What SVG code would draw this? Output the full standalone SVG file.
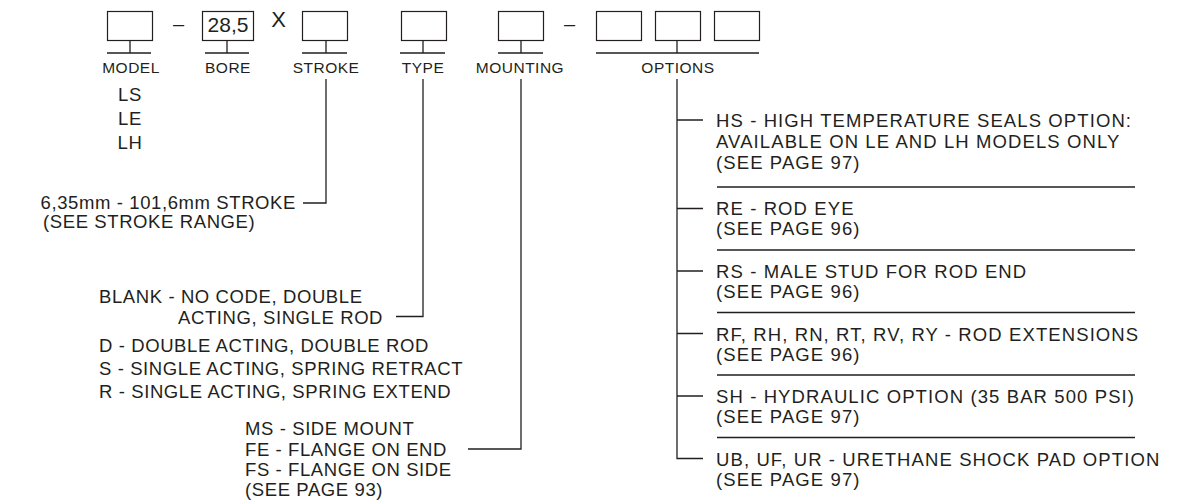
<svg xmlns="http://www.w3.org/2000/svg" width="1181" height="500" viewBox="0 0 1181 500">
<style>
text{font-family:"Liberation Sans",Arial,sans-serif;fill:#231f20}
.lbl{font-size:15.5px;letter-spacing:0.5px;text-anchor:middle}
.t{font-size:18.5px;letter-spacing:0.6px}
.o{font-size:18.5px;letter-spacing:1.1px}
.box{fill:none;stroke:#231f20;stroke-width:1.2}
.ln{fill:none;stroke:#231f20;stroke-width:1.3}
</style>
<rect width="1181" height="500" fill="#fff"/>
<g id="model">
<rect class="box" x="107.5" y="11.5" width="45" height="29"/>
<path class="ln" d="M130 40.5V53M107 53H151"/>
<text class="lbl" x="131" y="73">MODEL</text>
<text class="t" x="130" y="101" text-anchor="middle">LS</text>
<text class="t" x="130" y="125" text-anchor="middle">LE</text>
<text class="t" x="130" y="149" text-anchor="middle">LH</text>
</g>
<text x="178.5" y="31" font-size="20" text-anchor="middle">–</text>
<g id="bore">
<rect class="box" x="202.5" y="11.5" width="51" height="29"/>
<text x="228" y="32" font-size="21" text-anchor="middle">28,5</text>
<path class="ln" d="M227 40.5V53M205 53H249"/>
<text class="lbl" x="228" y="73">BORE</text>
</g>
<text x="278.5" y="27" font-size="22" text-anchor="middle">X</text>
<g id="stroke">
<rect class="box" x="302.5" y="11.5" width="45" height="29"/>
<path class="ln" d="M326 40.5V53M302 53H347"/>
<text class="lbl" x="326" y="73">STROKE</text>
<text class="t" x="296" y="209" text-anchor="end">6,35mm - 101,6mm STROKE</text>
<text class="t" x="43" y="228">(SEE STROKE RANGE)</text>
</g>
<g id="type">
<rect class="box" x="401.5" y="11.5" width="45" height="29"/>
<path class="ln" d="M423 40.5V53M400 53H445"/>
<text class="lbl" x="423" y="73">TYPE</text>
<text class="t" x="99" y="303">BLANK - NO CODE, DOUBLE</text>
<text class="t" x="178" y="324">ACTING, SINGLE ROD</text>
<text class="t" x="99" y="352">D - DOUBLE ACTING, DOUBLE ROD</text>
<text class="t" x="99" y="375">S - SINGLE ACTING, SPRING RETRACT</text>
<text class="t" x="99" y="398">R - SINGLE ACTING, SPRING EXTEND</text>
</g>
<g id="mounting">
<rect class="box" x="498.5" y="11.5" width="45" height="29"/>
<path class="ln" d="M521 40.5V53M498 53H543"/>
<text class="lbl" x="520" y="73">MOUNTING</text>
<text class="t" x="245" y="435">MS - SIDE MOUNT</text>
<text class="t" x="245" y="455.5">FE - FLANGE ON END</text>
<text class="t" x="245" y="476">FS - FLANGE ON SIDE</text>
<text class="t" x="245" y="496">(SEE PAGE 93)</text>
</g>
<text x="569.5" y="31" font-size="20" text-anchor="middle">–</text>
<g id="options">
<rect class="box" x="596.5" y="11.5" width="45" height="29"/>
<rect class="box" x="655.5" y="11.5" width="45" height="29"/>
<rect class="box" x="714.5" y="11.5" width="45" height="29"/>
<path class="ln" d="M677 40.5V53M596 53H759"/>
<text class="lbl" x="678" y="73">OPTIONS</text>
<text class="o" x="716" y="127">HS - HIGH TEMPERATURE SEALS OPTION:</text>
<text class="o" x="716" y="148">AVAILABLE ON LE AND LH MODELS ONLY</text>
<text class="o" x="716" y="169">(SEE PAGE 97)</text>
<text class="o" x="716" y="215">RE - ROD EYE</text>
<text class="o" x="716" y="235">(SEE PAGE 96)</text>
<text class="o" x="716" y="278">RS - MALE STUD FOR ROD END</text>
<text class="o" x="716" y="298">(SEE PAGE 96)</text>
<text class="o" x="716" y="340.5">RF, RH, RN, RT, RV, RY - ROD EXTENSIONS</text>
<text class="o" x="716" y="360.5">(SEE PAGE 96)</text>
<text class="o" x="716" y="403">SH - HYDRAULIC OPTION (35 BAR 500 PSI)</text>
<text class="o" x="716" y="423">(SEE PAGE 97)</text>
<text class="o" x="716" y="465.5">UB, UF, UR - URETHANE SHOCK PAD OPTION</text>
<text class="o" x="716" y="485.5">(SEE PAGE 97)</text>
<path class="ln" d="M717 187H1135M717 250H1135M717 312.5H1135M717 375H1135M717 437.5H1135"/>
</g>
<g id="connectors">
<path class="ln" d="M326 79V203H303"/>
<path class="ln" d="M423 79V316.5H396"/>
<path class="ln" d="M521 79V449H468"/>
<path class="ln" d="M677 79V458.5H703M677 120H703M677 208.5H703M677 271H703M677 333.5H703M677 396H703"/>
</g>
</svg>
